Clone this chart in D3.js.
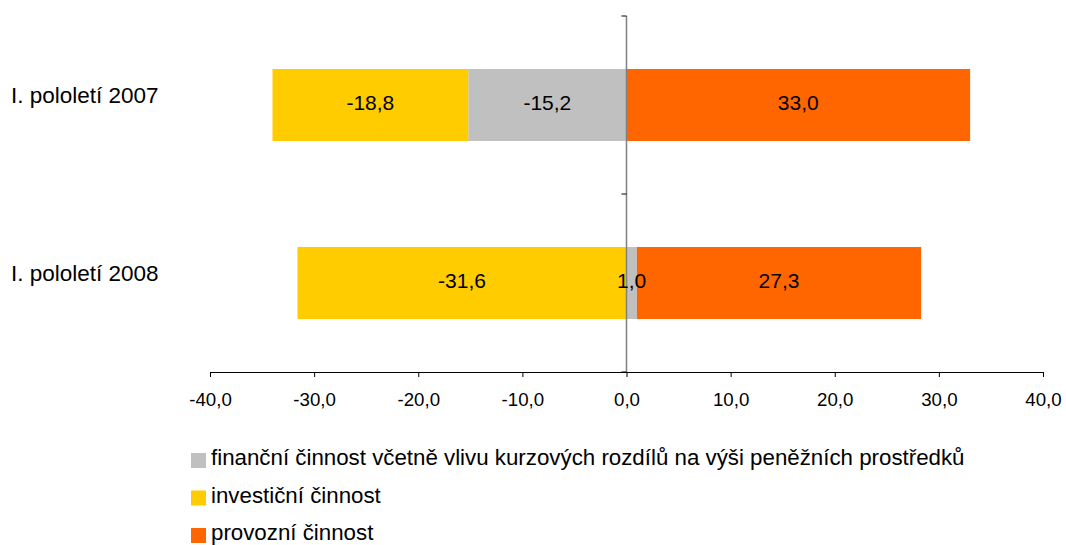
<!DOCTYPE html>
<html>
  <head>
    <meta charset="utf-8">
    <title>Peněžní toky</title>
    <script src="https://d3js.org/d3.v7.min.js"></script>
    <style>
      body { margin: 0; background: #fff; }
      text { font-family: "Liberation Sans", Arial, sans-serif; fill: #000; }
    </style>
  </head>
  <body>
    <div id="chart"></div>
    <script>
      // data
      const categories = ["I. pololetí 2007", "I. pololetí 2008"];
      const seriesNames = [
        "finanční činnost včetně vlivu kurzových rozdílů na výši peněžních prostředků",
        "investiční činnost",
        "provozní činnost"
      ];
      const financni = [-15.2, 1.0];
      const investicni = [-18.8, -31.6];
      const provozni = [33.0, 27.3];
      const xTicks = [-40, -30, -20, -10, 0, 10, 20, 30, 40];
      const colors = ["#C0C0C0", "#FFCC00", "#FF6600"];

      const width = 1066, height = 545;

      const rows = categories.map((c, i) => ({
        cat: c,
        [seriesNames[0]]: financni[i],
        [seriesNames[1]]: investicni[i],
        [seriesNames[2]]: provozni[i]
      }));

      const cz = d3.formatLocale({decimal: ",", thousands: " ", grouping: [3], currency: ["", " Kč"], minus: "-"});
      const fmt = cz.format(".1f");

      const svg = d3.select("#chart").append("svg")
          .attr("width", width)
          .attr("height", height);

      const x = d3.scaleLinear().domain([-40, 40]).range([210, 1043]);
      const y = d3.scaleBand().domain(categories).range([16, 372])
          .paddingInner(0.5955).paddingOuter(0.5955 / 2);

      const color = d3.scaleOrdinal().domain(seriesNames).range(colors);

      const stacked = d3.stack()
          .keys(seriesNames)
          .offset(d3.stackOffsetDiverging)(rows);
      stacked.forEach(s => s.forEach(v => { v.key = s.key; }));

      // bars
      svg.append("g").selectAll("g")
          .data(stacked)
          .join("g")
          .attr("fill", d => color(d.key))
          .selectAll("rect")
          .data(d => d)
          .join("rect")
          .attr("x", d => x(Math.min(d[0], d[1])))
          .attr("width", d => Math.abs(x(d[1]) - x(d[0])))
          .attr("y", d => y(d.data.cat))
          .attr("height", y.bandwidth());

      // x axis
      const xAxis = svg.append("g")
          .attr("transform", `translate(0,${y.range()[1]})`)
          .call(d3.axisBottom(x).tickValues(xTicks).tickFormat(fmt).tickSize(5).tickSizeOuter(0));
      xAxis.select(".domain").attr("stroke", "#000");
      xAxis.selectAll(".tick line").attr("stroke", "#000");
      xAxis.selectAll(".tick text")
          .attr("y", 21)
          .attr("dy", "0.71em")
          .style("font-size", "18.7px")
          .style("font-family", "'Liberation Sans', Arial, sans-serif");

      // vertical axis at zero
      const yAxis = svg.append("g")
          .attr("transform", `translate(${x(0)},0)`);
      yAxis.append("line")
          .attr("y1", y.range()[0])
          .attr("y2", y.range()[1])
          .attr("stroke", "#808080")
          .attr("stroke-width", 1.5);
      const bounds = [y.range()[0]].concat(categories.map(c => y(c) + y.bandwidth() + y.step() * y.paddingInner() / 2));
      yAxis.selectAll(".ytick")
          .data(bounds)
          .join("line")
          .attr("class", "ytick")
          .attr("x1", -5).attr("x2", 0)
          .attr("y1", d => d).attr("y2", d => d)
          .attr("stroke", "#000");

      // category labels
      svg.append("g").selectAll("text")
          .data(categories)
          .join("text")
          .attr("x", 11)
          .attr("y", d => y(d) + y.bandwidth() / 2 - 2)
          .style("font-size", "22.5px")
          .text(d => d);

      // value labels, drawn after all bars so none get covered
      svg.append("g").selectAll("text")
          .data(stacked.flat())
          .join("text")
          .attr("x", d => (x(d[0]) + x(d[1])) / 2)
          .attr("y", d => y(d.data.cat) + y.bandwidth() / 2)
          .attr("dy", "0.25em")
          .attr("text-anchor", "middle")
          .style("font-size", "21px")
          .text(d => fmt(d.data[d.key]));

      // legend
      const legend = svg.append("g").selectAll("g")
          .data(seriesNames)
          .join("g")
          .attr("transform", (d, i) => `translate(191,${453 + i * 37.5})`);
      legend.append("rect")
          .attr("width", 15)
          .attr("height", 15)
          .attr("fill", d => color(d));
      legend.append("text")
          .attr("x", 20)
          .attr("y", 12)
          .style("font-size", "22.3px")
          .text(d => d);
    </script>
  </body>
</html>
